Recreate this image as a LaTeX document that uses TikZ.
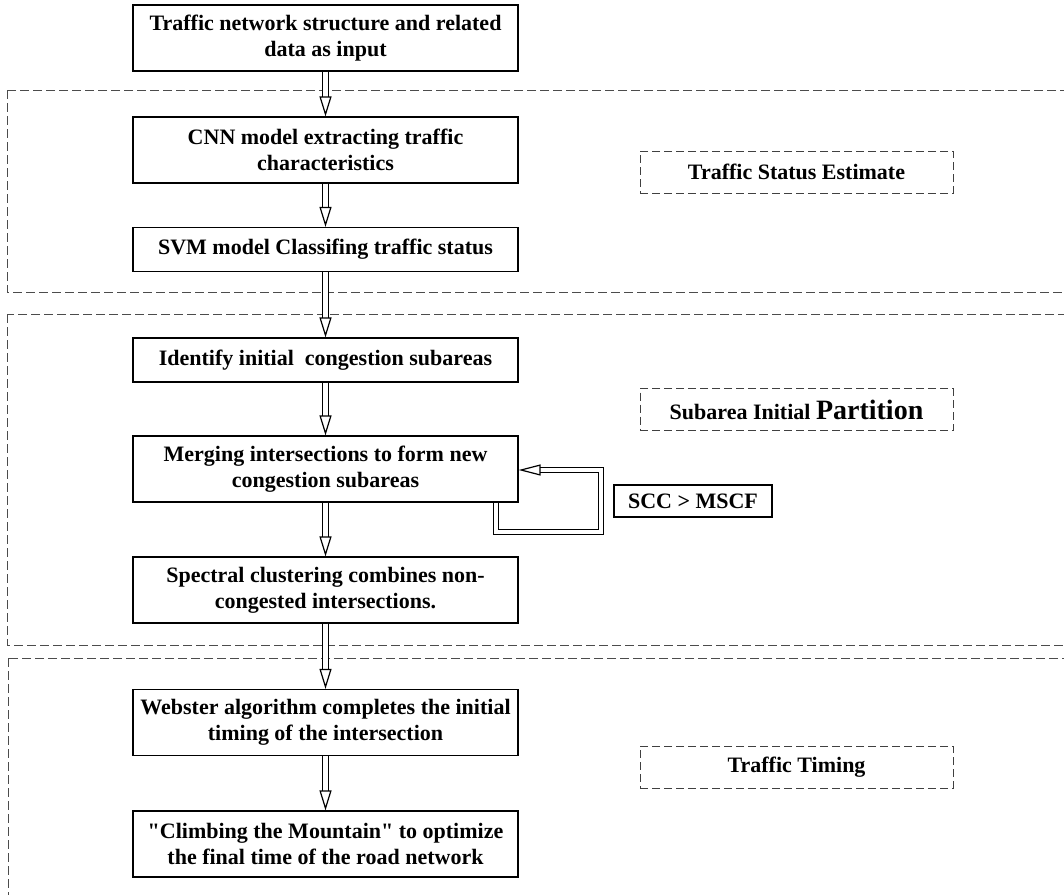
\documentclass[tikz,border=0pt]{standalone}
\usepackage{fontspec}
\setmainfont{Liberation Serif}[Ligatures=TeXOff]
\usetikzlibrary{arrows.meta}
\begin{document}
\begin{tikzpicture}[x=0.5pt,y=-0.5pt,
    stepbox/.style={draw,line width=0.6pt,minimum width=192.5pt,minimum height=22pt,
      inner sep=0pt,align=center,font=\fontsize{11}{13}\selectfont\bfseries},
    tallbox/.style={stepbox,minimum height=33pt},
    phasetag/.style={draw=black!75,line width=0.5pt,dash pattern=on 4pt off 2pt,
      minimum width=156.5pt,minimum height=21pt,inner sep=0pt,
      font=\fontsize{11}{13}\selectfont\bfseries},
    region/.style={draw=black!70,line width=0.5pt,dash pattern=on 4.5pt off 2pt},
    dblarrow/.style={draw,line width=0.6pt,double,double distance=2.2pt,
      -{Triangle[open,length=10pt,width=6pt,line width=0.6pt]}},
  ]
  \useasboundingbox (0,0) rectangle (1064,894);
  \clip (0,0) rectangle (1064,894);

  % dashed phases
  \draw[region] (7,90) rectangle (1090,292);
  \draw[region] (7,314) rectangle (1090,645);
  \draw[region] (8,658) rectangle (1090,920);

  % steps
  \node[tallbox] (input) at (325.5,38) {Traffic network structure and related\\data as input};
  \node[tallbox] (cnn) at (325.5,150) {CNN model extracting traffic\\characteristics};
  \node[stepbox] (svm) at (325.5,249.5) {SVM model Classifing traffic status};
  \node[stepbox] (ident) at (325.5,360) {Identify initial\ \ congestion subareas};
  \node[tallbox] (merge) at (325.5,469) {Merging intersections to form new\\congestion subareas};
  \node[tallbox] (spectral) at (325.5,590) {Spectral clustering combines non-\\congested intersections.};
  \node[tallbox] (webster) at (325.5,722.5) {Webster algorithm completes the initial\\timing of the intersection};
  \node[tallbox] (climb) at (325.5,844) {"Climbing the Mountain" to optimize\\the final time of the road network};

  % phase names
  \node[phasetag] (tse) at (796.5,172) {Traffic Status Estimate};
  \node[phasetag] (sip) at (796.5,409.5) {Subarea Initial {\fontsize{14}{16}\selectfont Partition}};
  \node[phasetag] (timing) at (796.5,767) {Traffic Timing};
  \node[stepbox,minimum width=79pt,minimum height=16pt] (scc) at (693,501) {SCC > MSCF};

  % arrows
  \draw[dblarrow] (input) -- (cnn);
  \draw[dblarrow] (cnn) -- (svm);
  \draw[dblarrow] (svm) -- (ident);
  \draw[dblarrow] (ident) -- (merge);
  \draw[dblarrow] (merge) -- (spectral);
  \draw[dblarrow] (spectral) -- (webster);
  \draw[dblarrow] (webster) -- (climb);

  % loop back
  \coordinate (loopa) at (496,532);
  \coordinate (loopb) at (601,470);
  \draw[dblarrow,line join=miter,-{Triangle[open,length=11pt,width=5.5pt,line width=0.6pt]}]
    (merge.south -| loopa) -- (loopa) -| (loopb) -- (loopb -| merge.east);
\end{tikzpicture}
\end{document}
